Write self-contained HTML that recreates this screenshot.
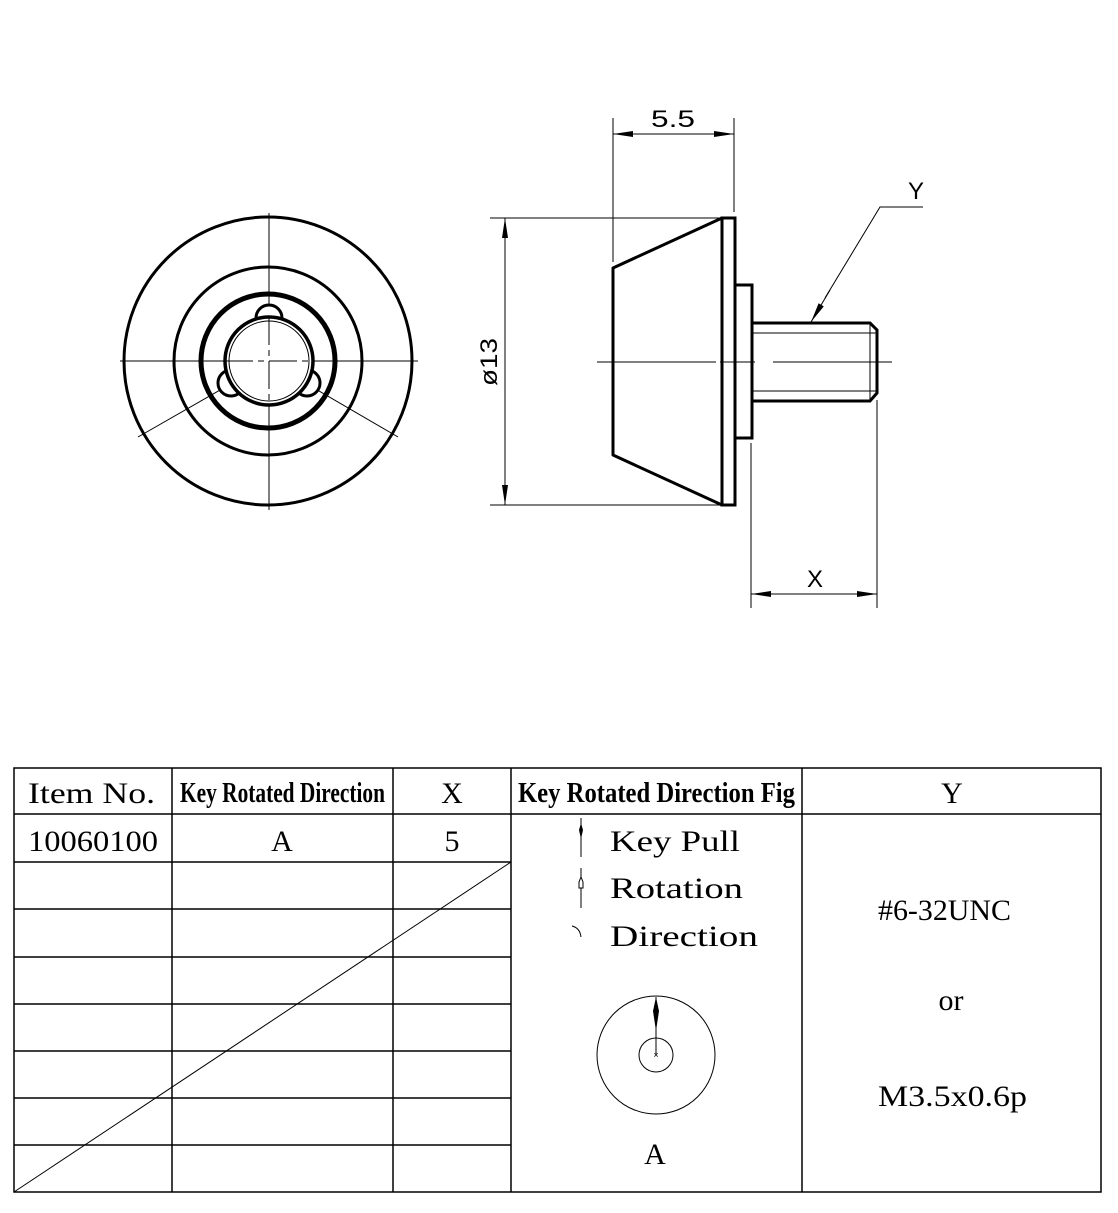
<!DOCTYPE html>
<html><head><style>html,body{margin:0;padding:0;background:#fff}svg{display:block}</style></head><body>
<svg width="1118" height="1213" viewBox="0 0 1118 1213" xmlns="http://www.w3.org/2000/svg">
<rect width="1118" height="1213" fill="#fff"/>
<defs>
<marker id="ar" viewBox="0 0 20 8" refX="20" refY="4" markerWidth="22" markerHeight="8" markerUnits="userSpaceOnUse" orient="auto"><path d="M0,1 L20,4 L0,7 Z" fill="#000"/></marker>
</defs>
<g fill="none" stroke="#000">
<!-- left view -->
<line x1="120" y1="361" x2="418" y2="361" stroke-width="1"/>
<line x1="269" y1="213" x2="269" y2="510" stroke-width="1"/>
<line x1="255" y1="370" x2="138" y2="437" stroke-width="1"/>
<line x1="283" y1="370" x2="398" y2="437" stroke-width="1"/>
<circle cx="268" cy="361" r="144" stroke-width="3"/>
<circle cx="268" cy="361" r="94" stroke-width="3"/>
<circle cx="268" cy="361" r="67" stroke-width="5"/>
<circle cx="269" cy="318" r="13" stroke-width="3" fill="#fff"/>
<circle cx="231" cy="383" r="13" stroke-width="3" fill="#fff"/>
<circle cx="307" cy="383" r="13" stroke-width="3" fill="#fff"/>
<circle cx="269" cy="361" r="44" stroke-width="3.5" fill="#fff"/>
<circle cx="269" cy="361" r="40" stroke-width="1"/>
<line x1="225" y1="361" x2="313" y2="361" stroke-width="1" stroke-dasharray="28,5,6,5"/>
<line x1="269" y1="317" x2="269" y2="405" stroke-width="1" stroke-dasharray="28,5,6,5"/>
<!-- side view -->
<line x1="597" y1="362" x2="716" y2="362" stroke-width="1"/>
<line x1="720" y1="362" x2="755" y2="362" stroke-width="1"/>
<line x1="773" y1="362" x2="892" y2="362" stroke-width="1"/>
<path d="M722,218 L613,268 L613,455 L722,505 Z" stroke-width="3" stroke-linejoin="round"/>
<rect x="722" y="218" width="13" height="287" stroke-width="3"/>
<rect x="735" y="285" width="17" height="153" stroke-width="3"/>
<path d="M752,323 L870,323 L877,330 L877,393 L870,401 L752,401" stroke-width="3"/>
<line x1="752" y1="333" x2="877" y2="333" stroke-width="1"/>
<line x1="752" y1="391" x2="877" y2="391" stroke-width="1"/>
<line x1="870" y1="323" x2="870" y2="401" stroke-width="1"/>
<!-- dims -->
<line x1="613" y1="118" x2="613" y2="262" stroke-width="1"/>
<line x1="734" y1="118" x2="734" y2="212" stroke-width="1"/>
<line x1="640" y1="134" x2="613" y2="134" stroke-width="1" marker-end="url(#ar)"/>
<line x1="700" y1="134" x2="734" y2="134" stroke-width="1" marker-end="url(#ar)"/>
<line x1="636" y1="134" x2="706" y2="134" stroke-width="1"/>
<line x1="490" y1="218" x2="720" y2="218" stroke-width="1"/>
<line x1="490" y1="505" x2="720" y2="505" stroke-width="1"/>
<line x1="505" y1="250" x2="505" y2="218" stroke-width="1" marker-end="url(#ar)"/>
<line x1="505" y1="470" x2="505" y2="505" stroke-width="1" marker-end="url(#ar)"/>
<line x1="505" y1="245" x2="505" y2="478" stroke-width="1"/>
<line x1="751" y1="443" x2="751" y2="608" stroke-width="1"/>
<line x1="877" y1="400" x2="877" y2="608" stroke-width="1"/>
<line x1="780" y1="594" x2="751" y2="594" stroke-width="1" marker-end="url(#ar)"/>
<line x1="850" y1="594" x2="877" y2="594" stroke-width="1" marker-end="url(#ar)"/>
<line x1="775" y1="594" x2="855" y2="594" stroke-width="1"/>
<path d="M923,207 L880,207 L825,298" stroke-width="1"/>
<line x1="830" y1="290" x2="811" y2="322" stroke-width="1" marker-end="url(#ar)"/>
</g>
<g font-family="Liberation Sans, sans-serif" font-size="24" fill="#000">
<text x="673" y="127" text-anchor="middle" textLength="44" lengthAdjust="spacingAndGlyphs">5.5</text>
<text x="815" y="587" text-anchor="middle">X</text>
<text x="916" y="199" text-anchor="middle">Y</text>
<text transform="translate(497,362) rotate(-90)" text-anchor="middle" textLength="48" lengthAdjust="spacingAndGlyphs">ø13</text>
</g>
<!-- table -->
<g stroke="#000" stroke-width="1.5" fill="none">
<rect x="14" y="768" width="1087" height="424"/>
<line x1="14" y1="814" x2="1101" y2="814"/>
<line x1="14" y1="862" x2="511" y2="862"/>
<line x1="14" y1="909" x2="511" y2="909"/>
<line x1="14" y1="957" x2="511" y2="957"/>
<line x1="14" y1="1004" x2="511" y2="1004"/>
<line x1="14" y1="1051" x2="511" y2="1051"/>
<line x1="14" y1="1098" x2="511" y2="1098"/>
<line x1="14" y1="1145" x2="511" y2="1145"/>
<line x1="172" y1="768" x2="172" y2="1192"/>
<line x1="393" y1="768" x2="393" y2="1192"/>
<line x1="511" y1="768" x2="511" y2="1192"/>
<line x1="802" y1="768" x2="802" y2="1192"/>
<line x1="511" y1="862" x2="14" y2="1192" stroke-width="1"/>
<circle cx="656" cy="1055" r="59" stroke-width="1"/>
<circle cx="656" cy="1055" r="17" stroke-width="1"/>
<line x1="656" y1="997" x2="656" y2="1055" stroke-width="1"/>
<path d="M572,926 Q580,928 581,937" stroke-width="1"/>
<line x1="581" y1="818" x2="581" y2="857" stroke-width="1"/>
<line x1="581" y1="868" x2="581" y2="908" stroke-width="1"/>
<path d="M581,877 l-2,5 l0,6 l4,0 l0,-6 z" stroke-width="1" fill="#fff"/>
</g>
<path d="M581,823 l2,7 l-2,9 l-2,-9 z" fill="#000"/>
<path d="M656,997 l3,14 l-3,20 l-3,-20 z" fill="#000"/>
<text x="656" y="1058" font-size="9" text-anchor="middle" font-family="Liberation Sans">×</text>
<g font-family="Liberation Serif, serif" font-size="30" fill="#000">
<text x="28" y="803" textLength="127" lengthAdjust="spacingAndGlyphs">Item No.</text>
<text x="180" y="802" font-weight="bold" font-size="28" textLength="205" lengthAdjust="spacingAndGlyphs">Key Rotated Direction</text>
<text x="452" y="803" text-anchor="middle">X</text>
<text x="518" y="802" font-weight="bold" font-size="28" textLength="277" lengthAdjust="spacingAndGlyphs">Key Rotated Direction Fig</text>
<text x="952" y="803" text-anchor="middle">Y</text>
<text x="28" y="851" textLength="130" lengthAdjust="spacingAndGlyphs">10060100</text>
<text x="282" y="851" text-anchor="middle">A</text>
<text x="452" y="851" text-anchor="middle">5</text>
<text x="610" y="851" textLength="130" lengthAdjust="spacingAndGlyphs">Key Pull</text>
<text x="610" y="898" textLength="133" lengthAdjust="spacingAndGlyphs">Rotation</text>
<text x="610" y="946" textLength="148" lengthAdjust="spacingAndGlyphs">Direction</text>
<text x="655" y="1164" text-anchor="middle">A</text>
<text x="878" y="920" textLength="133" lengthAdjust="spacingAndGlyphs">#6-32UNC</text>
<text x="951" y="1010" text-anchor="middle">or</text>
<text x="878" y="1106" textLength="149" lengthAdjust="spacingAndGlyphs">M3.5x0.6p</text>
</g>
</svg>
</body></html>
